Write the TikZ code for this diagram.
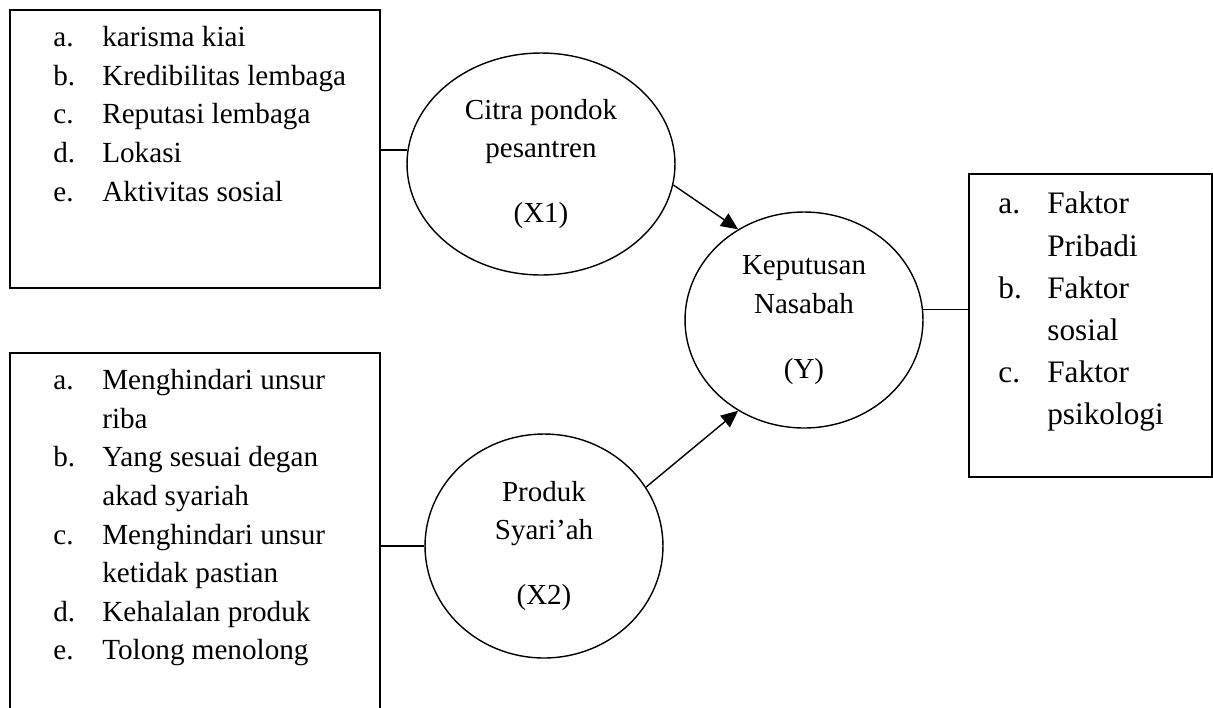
\documentclass[tikz,border=0pt]{standalone}
\usepackage{fontspec}
\setmainfont{Liberation Serif}
\usetikzlibrary{arrows.meta,shapes.geometric}

\begin{document}
\begin{tikzpicture}[x=0.02cm,y=-0.02cm,
    indbox/.style={draw,line width=1pt,rectangle,anchor=north west,inner sep=0pt},
    varoval/.style={draw,line width=.8pt,ellipse,inner sep=0pt,align=center,
      font=\fontsize{16.5}{22}\selectfont},
    listtxt/.style={anchor=north west,inner sep=0pt,
      font=\fontsize{16.6}{22}\selectfont},
    link/.style={line width=.8pt},
    pathto/.style={line width=.8pt,-{Triangle[length=3.4mm,width=3mm]}}]
    \useasboundingbox (0,0) rectangle (1213,707);
    \clip (0,0) rectangle (1213,707);
    % indicator boxes
    \node[indbox,minimum width=7.40cm,minimum height=5.56cm] (citraind) at (9,9) {};
    \node[listtxt] (citratxt) at (53,19) {\begin{tabular}{@{}p{0.98cm}@{}l@{}}
      a. & karisma kiai\\
      b. & Kredibilitas lembaga\\
      c. & Reputasi lembaga\\
      d. & Lokasi\\
      e. & Aktivitas sosial
    \end{tabular}};
    \node[indbox,minimum width=7.40cm,minimum height=8.16cm] (produkind) at (9,352) {};
    \node[listtxt] (produktxt) at (53,362) {\begin{tabular}{@{}p{0.98cm}@{}l@{}}
      a. & Menghindari unsur\\
         & riba\\
      b. & Yang sesuai degan\\
         & akad syariah\\
      c. & Menghindari unsur\\
         & ketidak pastian\\
      d. & Kehalalan produk\\
      e. & Tolong menolong
    \end{tabular}};
    \node[indbox,minimum width=4.86cm,minimum height=6.06cm] (keputind) at (968,173) {};
    \node[listtxt,font=\fontsize{17.8}{24}\selectfont] (keputtxt) at (998,184)
      {\begin{tabular}{@{}p{0.98cm}@{}l@{}}
      a. & Faktor\\
         & Pribadi\\
      b. & Faktor\\
         & sosial\\
      c. & Faktor\\
         & psikologi
    \end{tabular}};
    % variables
    \node[varoval,minimum width=5.36cm,minimum height=4.44cm] (citra) at (541,164)
      {Citra pondok\\pesantren\\[15pt](X1)};
    \node[varoval,minimum width=4.76cm,minimum height=4.32cm] (kep) at (804,320)
      {Keputusan\\Nasabah\\[15pt](Y)};
    \node[varoval,minimum width=4.76cm,minimum height=4.48cm] (produk) at (544,546)
      {Produk\\Syari’ah\\[15pt](X2)};
    % connectors
    \draw[link] (citra.174) -- (citra.174 -| citraind.east);
    \draw[link] (produk.west) -- (produk.west -| produkind.east);
    \draw[link] (kep.5) -- (kep.5 -| keputind.west);
    \draw[pathto] (citra.-9) -- (kep.126);
    \draw[pathto] (produk.30) -- (kep.234);
  \end{tikzpicture}
\end{document}
